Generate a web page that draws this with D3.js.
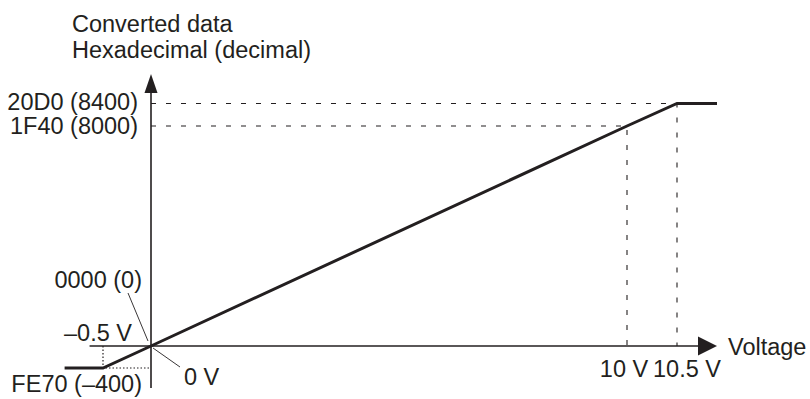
<!DOCTYPE html>
<html>
<head>
<meta charset="utf-8">
<script src="https://cdn.jsdelivr.net/npm/d3@7"></script>
<style>
  body { margin: 0; background: #fff; }
  text { font-family: "Liberation Sans", Arial, Helvetica, sans-serif; font-size: 23.5px; fill: #231f20; }
</style>
</head>
<body>
<script>
const svgWidth = 810; //Width of SVG.
const svgHeight = 399; //Height of SVG.
const ink = "#231f20"; //Colour used for every line and text.

//Characteristic curve: input voltage vs converted data.
const voltages = [-0.9, -0.5, 0, 10, 10.5, 10.9];
const converted = [-400, -400, 0, 8000, 8400, 8400];

//Tick values and labels.
const xTickValues = [-0.5, 0, 10, 10.5];
const xTickLabels = ["\u20130.5 V", "0 V", "10 V", "10.5 V"];
const yTickValues = [8400, 8000, 0, -400];
const yTickLabels = ["20D0 (8400)", "1F40 (8000)", "0000 (0)", "FE70 (\u2013400)"];

const yTitle = ["Converted data", "Hexadecimal (decimal)"];
const xTitle = "Voltage";

//The drawing is schematic, so the scales are piecewise (polylinear).
let xScale = d3.scaleLinear()
               .domain([-0.5, 0, 10, 10.5])
               .range([103, 151, 627, 677]);

let yScale = d3.scaleLinear()
               .domain([-400, 0, 8000, 8400])
               .range([368, 346, 126, 103.5]);

const x0 = xScale(0), y0 = yScale(0); //Origin.

let svg = d3.select("body")
            .append("svg")
            .attr("width", svgWidth)
            .attr("height", svgHeight);

//Dashed guides for 10 V and 10.5 V.
[[10, 8000], [10.5, 8400]].forEach(([v, c]) => {
    svg.append("path")
       .attr("d", `M${x0},${yScale(c)}H${xScale(v)}V${y0}`)
       .attr("fill", "none")
       .attr("stroke", ink)
       .attr("stroke-width", 1.1)
       .attr("stroke-dasharray", "5,10");
});

//Dotted guides for -0.5 V.
svg.append("path")
   .attr("d", `M${xScale(-0.5)},${y0}V${yScale(-400)}H${x0}`)
   .attr("fill", "none")
   .attr("stroke", ink)
   .attr("stroke-width", 1.2)
   .attr("stroke-dasharray", "1.5,2");

//X axis with arrow.
const xTip = xScale(10.9);
svg.append("line")
   .attr("x1", xScale(-0.64)).attr("y1", y0)
   .attr("x2", xTip - 18).attr("y2", y0)
   .attr("stroke", ink).attr("stroke-width", 1.6);
svg.append("path")
   .attr("d", `M${xTip},${y0}L${xTip - 19},${y0 - 9.5}L${xTip - 19},${y0 + 9.5}Z`)
   .attr("fill", ink);

//Y axis with arrow.
const yTip = yScale(8400) - 29.5;
svg.append("line")
   .attr("x1", x0).attr("y1", yScale(-400) + 20)
   .attr("x2", x0).attr("y2", yTip + 17)
   .attr("stroke", ink).attr("stroke-width", 1.6);
svg.append("path")
   .attr("d", `M${x0},${yTip}L${x0 - 6.5},${yTip + 19}L${x0 + 6.5},${yTip + 19}Z`)
   .attr("fill", ink);

//The characteristic line.
let line = d3.line()
             .x((d) => xScale(d[0]))
             .y((d) => yScale(d[1]));

svg.append("path")
   .datum(voltages.map((v, i) => [v, converted[i]]))
   .attr("d", line)
   .attr("fill", "none")
   .attr("stroke", ink)
   .attr("stroke-width", 3)
   .attr("stroke-linejoin", "miter");

//Leader lines for the origin labels.
svg.append("line")
   .attr("x1", x0 - 23).attr("y1", y0 - 53)
   .attr("x2", x0 - 3).attr("y2", y0 - 5)
   .attr("stroke", ink).attr("stroke-width", 0.9);
svg.append("line")
   .attr("x1", x0 + 2).attr("y1", y0 + 2)
   .attr("x2", x0 + 29).attr("y2", y0 + 21)
   .attr("stroke", ink).attr("stroke-width", 0.9);

//Y tick labels (offsets from the tick position).
const yLabelPos = [
    {dx: -13, dy: 6.5},
    {dx: -13, dy: 7.5},
    {dx: -9, dy: -58},
    {dx: -9, dy: 24}
];
svg.selectAll(".ylabel")
   .data(yTickValues)
   .enter()
   .append("text")
   .attr("class", "ylabel")
   .attr("x", (d, i) => x0 + yLabelPos[i].dx)
   .attr("y", (d, i) => yScale(d) + yLabelPos[i].dy)
   .attr("text-anchor", "end")
   .text((d, i) => yTickLabels[i]);

//X tick labels.
const xLabelPos = [
    {dx: 29, dy: -5, anchor: "end"},
    {dx: 33, dy: 39, anchor: "start"},
    {dx: -3, dy: 31, anchor: "middle"},
    {dx: 10, dy: 31, anchor: "middle"}
];
svg.selectAll(".xlabel")
   .data(xTickValues)
   .enter()
   .append("text")
   .attr("class", "xlabel")
   .attr("x", (d, i) => xScale(d) + xLabelPos[i].dx)
   .attr("y", (d, i) => y0 + xLabelPos[i].dy)
   .attr("text-anchor", (d, i) => xLabelPos[i].anchor)
   .text((d, i) => xTickLabels[i]);

//Axis titles.
svg.selectAll(".ytitle")
   .data(yTitle)
   .enter()
   .append("text")
   .attr("x", 72)
   .attr("y", (d, i) => 32 + i * 25.5)
   .text((d) => d);

svg.append("text")
   .attr("x", xTip + 11)
   .attr("y", y0 + 8.5)
   .text(xTitle);
</script>
</body>
</html>
